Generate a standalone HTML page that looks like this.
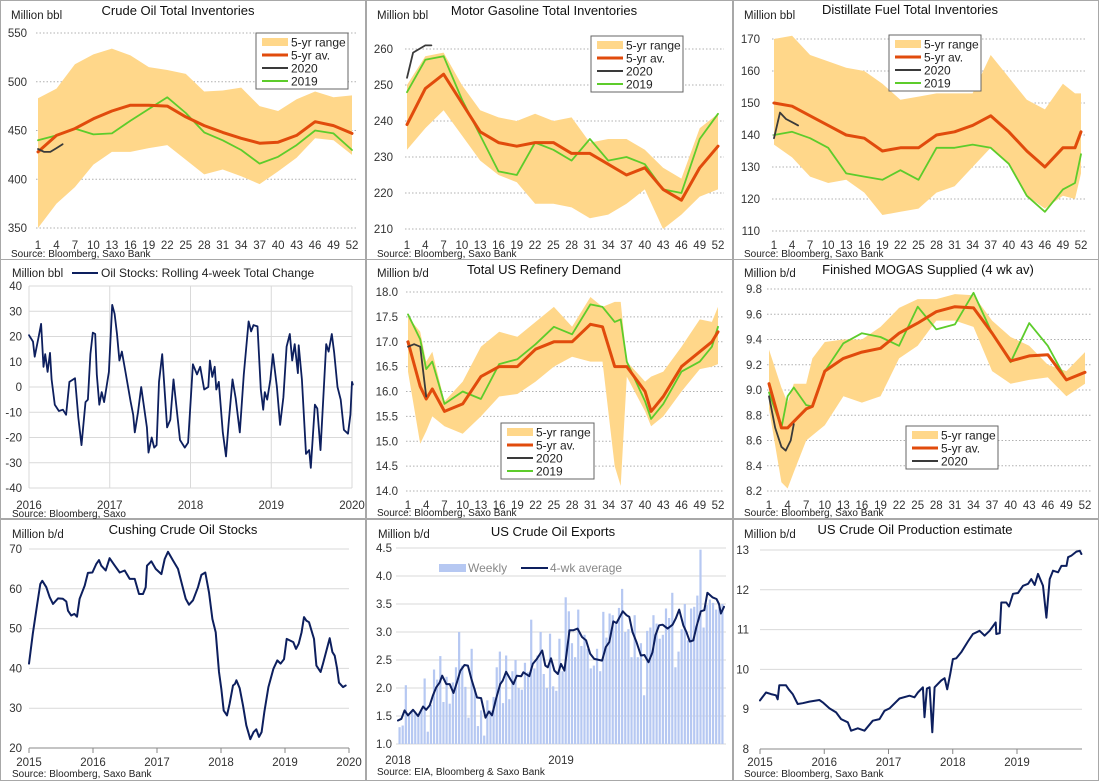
<!DOCTYPE html>
<html><head><meta charset="utf-8"><style>
html,body{margin:0;padding:0;background:#fff;}
svg{display:block;font-family:"Liberation Sans",sans-serif;}
</style></head><body>
<svg id="c" width="1099" height="781" viewBox="0 0 1099 781" xmlns="http://www.w3.org/2000/svg"></svg>
<script>
// ---------- DATA ----------
const wkTicks=[1,4,7,10,13,16,19,22,25,28,31,34,37,40,43,46,49,52];
// Crude
const crudeWeeks=[1,4,7,10,13,16,19,22,25,28,31,34,37,40,43,46,49,52];
const crudeHigh=[483,493,518,528,534,527,515,512,508,490,491,494,475,470,482,490,484,486];
const crudeLow=[350,375,392,415,428,428,432,435,420,405,410,403,395,408,422,442,440,425];
const crudeAvg=[428,445,452,462,470,476,476,475,464,455,448,442,437,438,445,459,455,447];
const crude2019=[440,445,452,446,447,460,472,484,468,448,440,430,416,423,435,450,447,430];
const crude2020Weeks=[1,2,3,4,5];
const crude2020=[431,428,428,432,436];
// Gasoline
const gasWeeks=[1,4,7,10,13,16,19,22,25,28,31,34,37,40,43,46,49,52];
const gasHigh=[250,258,259,250,243,241,240,242,240,241,234,235,235,232,227,224,238,242];
const gasLow=[232,238,243,236,229,225,223,217,217,216,213,214,217,221,210,214,219,221];
const gasAvg=[239,249,253,245,237,234,233,234,234,231,231,228,225,227,221,218,227,233];
const gas2019=[248,257,258,246,236,226,225,234,232,229,235,229,230,228,221,220,235,242];
const gas2020Weeks=[1,2,3,4,5];
const gas2020=[252,259,260,261,261];
// Distillate
const distWeeks=[1,4,7,10,13,16,19,22,25,28,31,34,37,40,43,46,49,51,52];
const distHigh=[170,171,165,163,161,160,156,151,152,153,153,153,165,158,151,148,156,153,153];
const distLow=[137,133,127,125,126,122,115,116,117,122,124,130,136,131,121,117,121,120,128];
const distAvg=[150,149,146,143,140,139,135,136,136,140,141,143,146,141,135,130,136,136,141];
const dist2019=[140,141,139,136,128,127,126,129,126,136,136,137,136,131,121,116,123,125,134];
const dist2020Weeks=[1,2,3,4,5];
const dist2020=[139,147,145,144,143];
// Refinery
const refWeeks=[1,3,4,5,7,10,13,16,19,22,25,28,31,33,35,36,37,40,41,43,46,49,51,52];
const refHigh=[17.5,17.2,16.6,16.8,15.8,16.2,16.9,17.2,17.1,17.4,17.7,17.3,17.9,17.7,17.8,17.8,16.6,16.2,16.3,16.4,16.9,17.45,17.4,17.7];
const refLow=[16.4,14.95,15.2,15.5,15.3,15.15,15.5,15.9,15.95,16.2,16.5,16.7,16.6,16.6,14.5,14.1,16.3,15.6,15.3,15.5,16.0,16.45,16.5,16.55];
const refAvg=[17.0,16.1,15.85,16.05,15.6,15.75,16.3,16.5,16.5,16.85,17.0,17.0,17.35,17.3,16.5,16.5,16.5,16.0,15.6,15.9,16.5,16.8,17.0,17.2];
const ref2019=[17.55,17.05,16.45,16.6,15.75,16.0,15.85,16.55,16.65,16.95,17.3,17.15,17.75,17.7,17.4,17.45,16.6,15.8,15.45,15.75,16.4,16.6,16.9,17.3];
const ref2020Weeks=[1,2,3,4];
const ref2020=[16.9,16.95,16.9,15.9];
// MOGAS
const mogWeeks=[1,3,4,5,7,8,10,13,16,19,22,25,28,31,34,37,40,43,46,49,52];
const mogHigh=[9.32,9.02,8.9,9.05,9.05,9.25,9.38,9.4,9.4,9.5,9.65,9.72,9.72,9.76,9.75,9.55,9.42,9.35,9.2,9.15,9.3];
const mogLow=[8.85,8.27,8.22,8.35,8.6,8.64,8.72,8.95,8.9,8.95,9.25,9.35,9.55,9.55,9.5,9.15,9.05,9.08,9.1,8.95,9.05];
const mogAvg=[9.05,8.7,8.7,8.75,8.85,8.87,9.15,9.25,9.3,9.33,9.45,9.53,9.62,9.66,9.65,9.45,9.23,9.27,9.28,9.08,9.14];
const mog2019=[8.98,8.7,8.95,9.02,8.88,8.87,9.15,9.37,9.45,9.42,9.35,9.66,9.48,9.52,9.77,9.45,9.22,9.53,9.35,9.08,9.14];
const mog2020Weeks=[1,2,3,3.7,4.5,5];
const mog2020=[8.95,8.7,8.55,8.52,8.6,8.73];
// Oil stocks rolling change (years since 2016)
const stkT=[0,.05,.07,.12,.15,.18,.20,.23,.26,.28,.32,.37,.42,.46,.50,.57,.61,.65,.70,.73,.76,.79,.82,.84,.87,.90,.93,.96,.99,1.03,1.06,1.09,1.12,1.15,1.20,1.26,1.29,1.31,1.35,1.39,1.46,1.48,1.52,1.55,1.58,1.61,1.65,1.71,1.75,1.79,1.87,1.93,1.97,2.03,2.08,2.12,2.17,2.22,2.24,2.27,2.30,2.32,2.35,2.40,2.44,2.47,2.52,2.56,2.61,2.66,2.72,2.75,2.78,2.83,2.87,2.90,2.92,2.95,2.99,3.02,3.07,3.11,3.15,3.19,3.23,3.26,3.29,3.33,3.34,3.38,3.43,3.47,3.49,3.54,3.57,3.61,3.68,3.71,3.75,3.78,3.82,3.86,3.90,3.95,3.98,4.0,4.01];
const stkV=[20.5,18,12,20,25,8,13,6,13.5,3,-7,-9.5,-9,-11,2,3.5,-12,-23,-6,-5,13,21.5,21,5,-7,-2,-6,0,6,32.5,29,21,10.5,14,5,-6,-11,-18,-10,0,-16,-26,-20,-24,-23,2,13,-16,-13,3,-21,-24,-22,9,5,8,-1,0,10.5,4,8,-1,2,-18,-27.5,-15,3,-4.5,-18,5,26,22,24.5,24,-1,-9,-2,-5,3,13,0,-15,-4,16,21,10.5,17,5.5,16.5,3,-26.5,-25,-32,-7,-8.5,-25,17,14,21,13.5,0,-5,-17,-18.5,-11,2,1];
const stkYTicks=[40,30,20,10,0,-10,-20,-30,-40];
const stkXTicks=[2016,2017,2018,2019,2020];
// Cushing (years since 2015)
const cushT=[0,.06,.125,.177,.208,.27,.323,.375,.453,.53,.583,.609,.66,.71,.75,.79,.87,.92,.99,1.05,1.094,1.13,1.198,1.26,1.34,1.417,1.495,1.573,1.651,1.719,1.781,1.823,1.844,1.911,1.979,2.068,2.12,2.172,2.25,2.328,2.396,2.448,2.5,2.563,2.641,2.693,2.755,2.813,2.865,2.917,2.969,3.005,3.042,3.094,3.135,3.188,3.219,3.24,3.292,3.344,3.396,3.458,3.51,3.552,3.594,3.635,3.677,3.74,3.818,3.88,3.932,3.984,4.026,4.078,4.13,4.172,4.214,4.26,4.297,4.333,4.375,4.453,4.49,4.557,4.594,4.635,4.698,4.74,4.776,4.813,4.844,4.906,4.948];
const cushV=[41.2,48.7,55.8,61.2,62,60.4,57.9,56.2,57.6,57.5,56.8,54.5,53.3,53.7,53,57.5,60.8,64,64.1,66.2,67.2,65.8,64.6,67.7,65.8,64.1,64.6,62.5,62.5,58.7,58.7,60.4,65.8,66.9,65,63.7,67.5,69.3,67.1,65,60.8,57.5,56,57.1,60.4,63.5,64.1,59.1,52.4,49.1,39.1,34.9,29.4,28.2,31.1,35.7,36.1,37,35,30.7,25.7,22.2,24,24.7,22.8,24,29,35.3,39.9,42,41.2,42.3,47.4,47,46.6,44.9,46.2,49.1,52.9,52,51.6,47.4,40.7,39.1,41.2,43.7,47.6,44.1,43.2,40.1,36.4,35.3,35.7];
const cushYTicks=[70,60,50,40,30,20];
const cushXTicks=[2015,2016,2017,2018,2019,2020];
// Exports (week index from start of 2018)
const expBars=[1.3,1.33,2.05,1.5,1.6,1.55,1.5,1.62,2.17,1.22,1.7,2.33,2.15,2.57,1.75,2.2,1.72,2.1,2.37,3.0,2.4,2.02,1.47,2.7,2.0,1.32,1.6,1.15,1.78,1.6,1.84,2.37,2.65,1.73,2.58,1.8,2.3,2.5,2.0,1.97,2.45,2.28,3.22,2.35,2.58,3.0,2.25,2.0,2.97,2.03,1.95,2.88,
2.3,3.62,3.37,2.8,2.55,3.4,2.75,2.95,2.7,2.35,2.4,2.7,2.3,3.36,2.9,3.33,3.3,3.15,3.43,3.77,3.0,3.05,2.55,3.3,2.55,2.8,1.87,3.02,3.08,3.3,3.15,2.88,2.95,3.42,3.25,3.7,2.37,2.65,3.05,3.5,2.85,3.42,3.45,3.65,4.47,3.08,3.48,3.58,3.52,3.4,3.45,3.5];
const expAvgW=[0,1.1,2.1,3.2,4.8,6.4,8.0,9.0,10.1,11.1,12.2,13.3,14.1,15.4,16.5,17.7,18.8,19.9,21.2,22.3,23.4,24.1,25.2,26.5,27.9,29.0,30.0,31.3,32.6,33.4,34.5,35.8,36.8,37.9,39.3,40.0,41.9,43.0,44.3,46.0,47.0,47.8,48.8,49.9,51.0,52.0,53.1,54.7,55.9,57.3,58.7,60.0,61.3,62.6,65.1,66.3,67.4,68.7,69.7,71.7,72.9,73.8,74.8,76.1,77.5,78.6,79.9,81.2,82.1,83.3,84.4,86.0,87.6,88.6,89.7,91.0,92.0,93.1,94.2,95.2,96.6,97.7,98.7,100.3,101.6,102.4,103.0,104.0];
const expAvgV=[1.42,1.45,1.6,1.51,1.61,1.5,1.67,1.61,1.69,1.86,2.01,2.1,2.22,2.07,2.07,1.91,2.1,2.31,2.41,2.4,2.16,2.04,1.83,1.82,1.47,1.58,1.51,1.81,2.07,2.13,2.29,2.16,2.07,2.22,2.21,2.28,2.21,2.43,2.52,2.67,2.4,2.37,2.53,2.31,2.25,2.43,2.31,3.03,3.03,3.06,2.91,2.85,2.61,2.52,2.49,2.73,2.82,3.19,3.16,3.37,3.3,3.27,3.0,2.82,2.58,2.59,2.46,2.64,2.94,3.12,3.13,3.06,3.13,3.24,3.4,3.12,3.0,2.83,2.85,3.09,3.37,3.39,3.7,3.62,3.59,3.5,3.33,3.45];
const expYTicks=[4.5,4.0,3.5,3.0,2.5,2.0,1.5,1.0];
const expYLabels=["4.5","4.0","3.5","3.0","2.5","2.0","1.5","1.0"];
// Production (years since 2015)
const prodT=[0,.094,.171,.249,.275,.3,.405,.447,.509,.587,.665,.769,.925,.977,1.081,1.184,1.262,1.366,1.418,1.522,1.626,1.756,1.86,1.938,2.016,2.171,2.327,2.405,2.457,2.535,2.561,2.597,2.639,2.681,2.717,2.821,2.873,2.914,2.961,3.003,3.055,3.132,3.236,3.314,3.418,3.496,3.574,3.668,3.678,3.73,3.756,3.834,3.875,3.938,4.016,4.094,4.172,4.223,4.275,4.327,4.405,4.457,4.509,4.561,4.639,4.691,4.77,4.795,4.847,4.925,4.977,5.003];
const prodV=[9.22,9.42,9.38,9.35,9.25,9.6,9.6,9.5,9.38,9.13,9.15,9.19,9.23,9.17,9.02,8.92,8.75,8.67,8.46,8.52,8.46,8.71,8.75,8.96,9.02,9.27,9.34,9.3,9.42,9.55,8.8,9.52,9.55,8.42,9.55,9.72,9.78,9.5,9.88,10.26,10.28,10.43,10.7,10.89,10.97,10.85,10.97,11.18,10.89,10.91,11.68,11.68,11.58,11.9,11.92,12.1,12.15,12.27,12.12,12.4,12.1,11.3,12.27,12.48,12.44,12.6,12.6,12.82,12.86,12.96,12.98,12.9];
const prodYTicks=[13,12,11,10,9,8];
const prodXTicks=[2015,2016,2017,2018,2019];

// ---------- DRAWING ----------
const NS="http://www.w3.org/2000/svg";
const svg=document.getElementById('c');
const ORANGE="#e14b0c",GREEN="#5dcc2b",DARK="#3a3a3a",BAND="#ffd78a",NAVY="#0d1f5e";
function el(tag,attrs,parent){const e=document.createElementNS(NS,tag);for(const k in attrs)e.setAttribute(k,attrs[k]);(parent||svg).appendChild(e);return e;}
function lin(d0,d1,p0,p1){return v=>p0+(v-d0)/(d1-d0)*(p1-p0);}
function txt(g,x,y,s,size,anchor,fill,name){const t=el('text',{x:x,y:y,'font-size':size,'text-anchor':anchor||'start',fill:fill||'#222'},g);t.textContent=s;


return t;}
function pathD(xs,ys,X,Y){return xs.map((v,i)=>(i?'L':'M')+X(v).toFixed(1)+','+Y(ys[i]).toFixed(1)).join('');}
function panel(name,x,y,w,h){const g=el('g',{});


const r=el('rect',{x:x+.5,y:y+.5,width:w,height:h,fill:'#fff',stroke:'#a8a8a8','stroke-width':1},g);


return g;}
function line(g,xs,ys,X,Y,color,wd,name){const p=el('path',{d:pathD(xs,ys,X,Y),fill:'none',stroke:color,'stroke-width':wd,'stroke-linejoin':'round','stroke-linecap':'round'},g);


return p;}
function band(g,xs,hi,lo,X,Y){let d=pathD(xs,hi,X,Y);for(let i=xs.length-1;i>=0;i--)d+='L'+X(xs[i]).toFixed(1)+','+Y(lo[i]).toFixed(1);d+='Z';
const p=el('path',{d:d,fill:BAND,stroke:'none'},g);

}
function hgrid(g,ticks,labels,Y,x0,x1,lx,dotted,fs){ticks.forEach((t,i)=>{const l=el('line',{x1:x0,x2:x1,y1:Y(t),y2:Y(t),stroke:dotted?'#b0b0b0':'#d9d9d9','stroke-width':1,'stroke-dasharray':dotted?'1.5,2':'none'},g);


txt(g,lx,Y(t)+4,labels?labels[i]:String(t),fs||11.5,'end','#333','y-tick-label');});}
function legendBox(g,x,y,w,items){const r=el('rect',{x:x,y:y,width:w,height:items.length*13+4,fill:'#fff',stroke:'#666','stroke-width':1},g);


items.forEach((it,i)=>{const cy=y+9+i*13;
if(it[0]==='band'){const s=el('rect',{x:x+6,y:cy-4,width:26,height:8,fill:BAND},g);

}
else{const s=el('line',{x1:x+6,x2:x+32,y1:cy,y2:cy,stroke:it[0],'stroke-width':it[2]||2},g);

}
txt(g,x+35,cy+4.5,it[1],12,'start','#222','legend-entry');});}

function weekly(o){const g=panel(o.name,o.px,o.py,o.pw,o.ph);
const X=lin(1,52,o.x1,o.x52),Y=lin(o.ymin,o.ymax,o.ybot,o.ytop);
hgrid(g,o.yticks,o.ylabels,Y,o.x1-2,o.x52+6,o.lx,true);
band(g,o.w,o.hi,o.lo,X,Y);
if(o.s2019)line(g,o.w,o.s2019,X,Y,GREEN,1.8,'series-2019');
line(g,o.w,o.avg,X,Y,ORANGE,3,'series-5yr-avg');
line(g,o.w20,o.s2020,X,Y,DARK,1.8,'series-2020');
wkTicks.forEach(t=>txt(g,X(t),o.xly,String(t),11.5,'middle','#333','x-tick-label'));
txt(g,o.tx,o.ty,o.title,13,'middle','#111','chart-title');
txt(g,o.px+11,o.uy,o.unit,11.5,'start','#222','y-axis-unit');
txt(g,o.px+11,o.py+o.ph-2,'Source: Bloomberg, Saxo Bank',10,'start','#222','source-note');
legendBox(g,o.lgx,o.lgy,o.lgw,o.legend);}

const L4=[['band','5-yr range'],[ORANGE,'5-yr av.',3],[DARK,'2020'],[GREEN,'2019']];
weekly({name:'crude-inventories-chart',px:0,py:0,pw:365,ph:259,x1:38,x52:352,ymin:350,ymax:550,ybot:228,ytop:33,yticks:[550,500,450,400,350],lx:27,w:crudeWeeks,hi:crudeHigh,lo:crudeLow,avg:crudeAvg,s2019:crude2019,w20:crude2020Weeks,s2020:crude2020,xly:249,tx:178,ty:15,title:'Crude Oil Total Inventories',uy:19,unit:'Million bbl',lgx:256,lgy:33,lgw:92,legend:L4});
weekly({name:'gasoline-inventories-chart',px:366,py:0,pw:366,ph:259,x1:407,x52:718,ymin:210,ymax:260,ybot:229,ytop:49,yticks:[260,250,240,230,220,210],lx:393,w:gasWeeks,hi:gasHigh,lo:gasLow,avg:gasAvg,s2019:gas2019,w20:gas2020Weeks,s2020:gas2020,xly:249,tx:544,ty:15,title:'Motor Gasoline Total Inventories',uy:19,unit:'Million bbl',lgx:591,lgy:36,lgw:92,legend:L4});
weekly({name:'distillate-inventories-chart',px:733,py:0,pw:365,ph:259,x1:774,x52:1081,ymin:110,ymax:170,ybot:231,ytop:39,yticks:[170,160,150,140,130,120,110],lx:760,w:distWeeks,hi:distHigh,lo:distLow,avg:distAvg,s2019:dist2019,w20:dist2020Weeks,s2020:dist2020,xly:249,tx:910,ty:14,title:'Distillate Fuel Total Inventories',uy:19,unit:'Million bbl',lgx:889,lgy:35,lgw:92,legend:L4});
weekly({name:'refinery-demand-chart',px:366,py:259,pw:366,ph:259,x1:408,x52:718,ymin:14,ymax:18,ybot:491,ytop:292,yticks:[18,17.5,17,16.5,16,15.5,15,14.5,14],ylabels:['18.0','17.5','17.0','16.5','16.0','15.5','15.0','14.5','14.0'],lx:398,w:refWeeks,hi:refHigh,lo:refLow,avg:refAvg,s2019:ref2019,w20:ref2020Weeks,s2020:ref2020,xly:509,tx:544,ty:274,title:'Total US Refinery Demand',uy:277,unit:'Million b/d',lgx:501,lgy:423,lgw:93,legend:L4});
weekly({name:'mogas-supplied-chart',px:733,py:259,pw:365,ph:259,x1:769,x52:1085,ymin:8.2,ymax:9.8,ybot:491,ytop:289,yticks:[9.8,9.6,9.4,9.2,9.0,8.8,8.6,8.4,8.2],ylabels:['9.8','9.6','9.4','9.2','9.0','8.8','8.6','8.4','8.2'],lx:762,w:mogWeeks,hi:mogHigh,lo:mogLow,avg:mogAvg,s2019:mog2019,w20:mog2020Weeks,s2020:mog2020,xly:509,tx:928,ty:274,title:'Finished MOGAS Supplied (4 wk av)',uy:277,unit:'Million b/d',lgx:906,lgy:426,lgw:92,legend:[['band','5-yr range'],[ORANGE,'5-yr av.',3],[DARK,'2020']]});
// fix mogas legend spacing handled by legendBox; green 2019 drawn but not in legend

// Oil stocks
(function(){const g=panel('oil-stocks-change-chart',0,259,365,259);
const X=lin(2016,2020,29,352),Y=lin(-40,40,488,286);
hgrid(g,stkYTicks,null,Y,29,352,22,false);
stkXTicks.forEach(t=>{const l=el('line',{x1:X(t),x2:X(t),y1:286,y2:488,stroke:'#d9d9d9'},g);


txt(g,X(t),509,String(t),11.5,'middle','#333','x-tick-label');});
line(g,stkT.map(t=>2016+t),stkV,X,Y,NAVY,1.8,'oil-stocks-line');
txt(g,12,277,'Million bbl',11.5,'start','#222','y-axis-unit');
const s=el('line',{x1:72,x2:98,y1:273,y2:273,stroke:NAVY,'stroke-width':2},g);


txt(g,101,277,'Oil Stocks: Rolling 4-week Total Change',12,'start','#222','legend-entry');
txt(g,12,517,'Source: Bloomberg, Saxo',10,'start','#222','source-note');})();

// Cushing
(function(){const g=panel('cushing-stocks-chart',0,519,365,261);
const X=lin(2015,2020,29,349),Y=lin(20,70,748,549);
hgrid(g,cushYTicks,null,Y,29,349,22,false);
const ax=el('line',{x1:29,x2:349,y1:748,y2:748,stroke:'#888'},g);


cushXTicks.forEach(t=>{const tk=el('line',{x1:X(t),x2:X(t),y1:748,y2:753,stroke:'#888'},g);


txt(g,X(t),766,String(t),11.5,'middle','#333','x-tick-label');});
line(g,cushT.map(t=>2015+t),cushV,X,Y,NAVY,2,'cushing-line');
txt(g,183,534,'Cushing Crude Oil Stocks',13,'middle','#111','chart-title');
txt(g,12,538,'Million b/d',11.5,'start','#222','y-axis-unit');
txt(g,12,777,'Source: Bloomberg, Saxo Bank',10,'start','#222','source-note');})();

// Exports
(function(){const g=panel('crude-exports-chart',366,519,366,261);
const X=lin(0,104,398,724),Y=lin(1,4.5,744,548);
hgrid(g,expYTicks,expYLabels,Y,396,726,392,false);
expBars.forEach((v,i)=>{const b=el('rect',{x:X(i+0.5)-1.1,y:Y(v),width:2.2,height:Y(1)-Y(v),fill:'#b6c8f2'},g);

});
line(g,expAvgW,expAvgV,X,Y,NAVY,2,'four-week-average-line');
txt(g,398,764,'2018',11.5,'middle','#333','x-tick-label');
txt(g,X(52),764,'2019',11.5,'middle','#333','x-tick-label');
txt(g,553,536,'US Crude Oil Exports',13,'middle','#111','chart-title');
txt(g,378,538,'Million  b/d',11.5,'start','#222','y-axis-unit');
const sw=el('rect',{x:439,y:564,width:27,height:8,fill:'#b6c8f2'},g);


txt(g,468,572,'Weekly',12,'start','#888','legend-entry');
const ls=el('line',{x1:521,x2:548,y1:568,y2:568,stroke:NAVY,'stroke-width':2},g);


txt(g,550,572,'4-wk average',12,'start','#888','legend-entry');
txt(g,377,775,'Source: EIA, Bloomberg & Saxo Bank',10,'start','#222','source-note');})();

// Production
(function(){const g=panel('crude-production-chart',733,519,365,261);
const X=lin(2015,2019,760,1017),Y=lin(8,13,749,550);
hgrid(g,prodYTicks,null,Y,760,1082,749,false);
const ax=el('line',{x1:760,x2:1082,y1:749,y2:749,stroke:'#888'},g);


prodXTicks.forEach(t=>{const tk=el('line',{x1:X(t),x2:X(t),y1:749,y2:754,stroke:'#888'},g);


txt(g,X(t),766,String(t),11.5,'middle','#333','x-tick-label');});
line(g,prodT.map(t=>2015+t),prodV,X,Y,NAVY,2,'production-line');
txt(g,915,534,'US Crude Oil Production estimate',13,'middle','#111','chart-title');
txt(g,744,538,'Million b/d',11.5,'start','#222','y-axis-unit');
txt(g,744,777,'Source: Bloomberg, Saxo Bank',10,'start','#222','source-note');})();
</script>
</body></html>
